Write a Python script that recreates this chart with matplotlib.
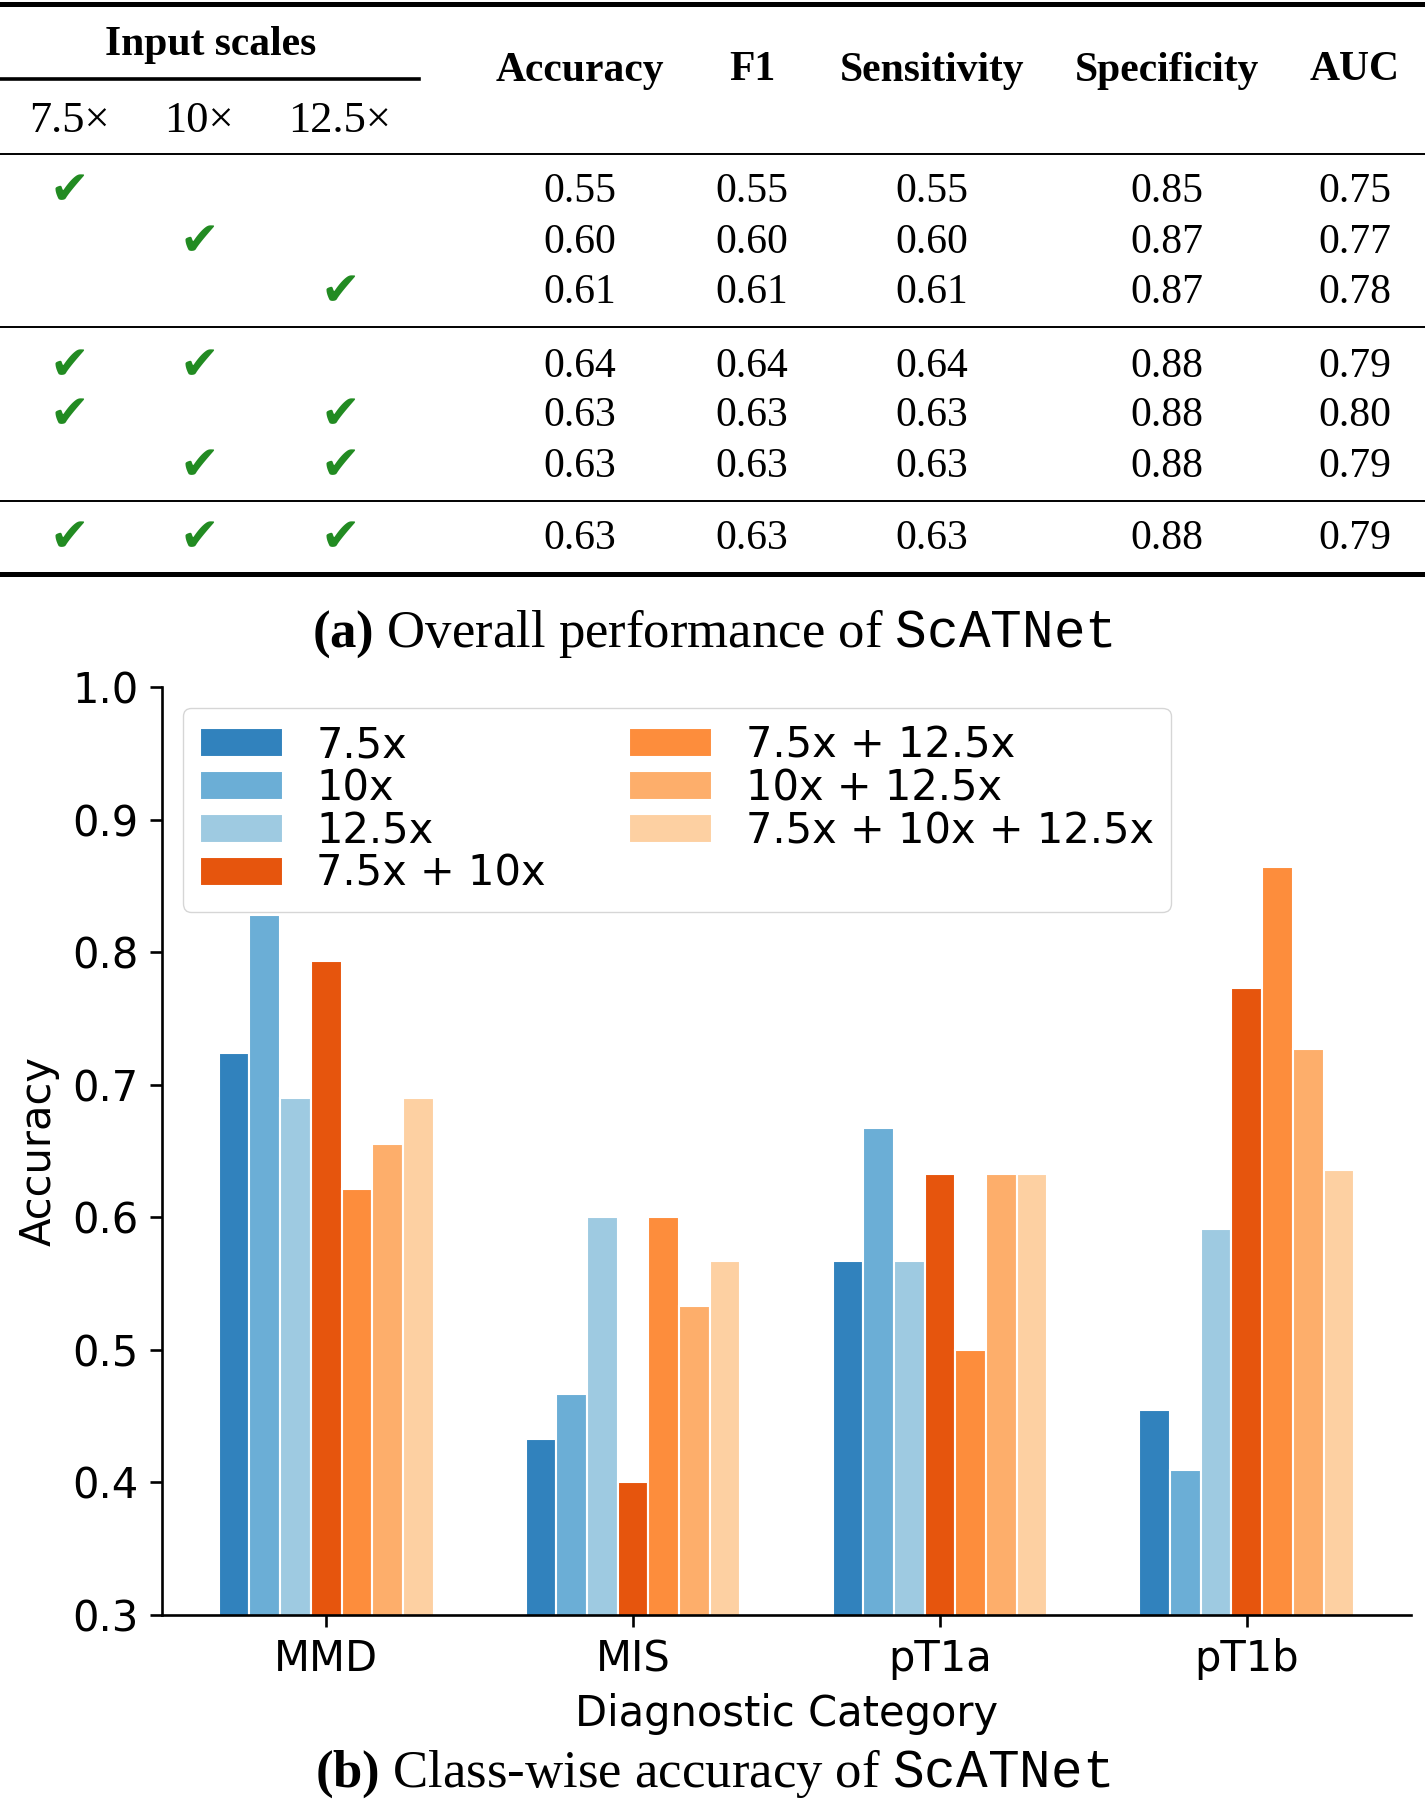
import numpy as np
import matplotlib
matplotlib.use("Agg")
import matplotlib.pyplot as plt
from matplotlib.lines import Line2D

# ---- table (a) data ----
scale_names = ["7.5\u00d7", "10\u00d7", "12.5\u00d7"]
metric_names = ["Accuracy", "F1", "Sensitivity", "Specificity", "AUC"]
scale_used = [
    [1, 0, 0],
    [0, 1, 0],
    [0, 0, 1],
    [1, 1, 0],
    [1, 0, 1],
    [0, 1, 1],
    [1, 1, 1],
]
accuracy = [0.55, 0.60, 0.61, 0.64, 0.63, 0.63, 0.63]
f1 = [0.55, 0.60, 0.61, 0.64, 0.63, 0.63, 0.63]
sensitivity = [0.55, 0.60, 0.61, 0.64, 0.63, 0.63, 0.63]
specificity = [0.85, 0.87, 0.87, 0.88, 0.88, 0.88, 0.88]
auc = [0.75, 0.77, 0.78, 0.79, 0.80, 0.79, 0.79]

# ---- bar chart (b) data ----
categories = ["MMD", "MIS", "pT1a", "pT1b"]
series_labels = ["7.5x", "10x", "12.5x", "7.5x + 10x",
                 "7.5x + 12.5x", "10x + 12.5x", "7.5x + 10x + 12.5x"]
acc_75 = [0.724, 0.433, 0.567, 0.455]
acc_10 = [0.828, 0.467, 0.667, 0.409]
acc_125 = [0.690, 0.600, 0.567, 0.591]
acc_75_10 = [0.793, 0.400, 0.633, 0.773]
acc_75_125 = [0.621, 0.600, 0.500, 0.864]
acc_10_125 = [0.655, 0.533, 0.633, 0.727]
acc_all = [0.690, 0.567, 0.633, 0.636]
series_values = [acc_75, acc_10, acc_125, acc_75_10, acc_75_125, acc_10_125, acc_all]

plt.rcParams['mathtext.fontset'] = 'custom'
plt.rcParams['mathtext.rm'] = 'Liberation Serif'
plt.rcParams['mathtext.bf'] = 'Liberation Serif:bold'
plt.rcParams['mathtext.tt'] = 'Liberation Mono'

W, H = 1425, 1800
fig = plt.figure(figsize=(W / 100, H / 100), dpi=100)


def fx(x):
    return x / W


def fy(y):
    return 1 - y / H


def hrule(y, x0, x1, lw):
    fig.add_artist(Line2D([fx(x0), fx(x1)], [fy(y), fy(y)], color='black',
                          lw=lw, transform=fig.transFigure))


serif = 'Liberation Serif'
check_green = '#228B22'
dy = 3.5  # text sits a bit lower than the bbox centre

# rules of the table
hrule(4, 0, W, 3.6)
hrule(79, 0, 419, 2.6)
hrule(154, 0, W, 1.4)
hrule(327, 0, W, 1.4)
hrule(501, 0, W, 1.4)
hrule(574, 0, W, 3.6)

# header
fig.text(fx(211), fy(42 + dy), "Input scales", family=serif, weight='bold',
         fontsize=30, ha='center', va='center')
scale_x = [69, 199, 340]
metric_x = [580, 752, 932, 1167, 1355]
for x, name in zip(scale_x, scale_names):
    fig.text(fx(x), fy(117 + dy), name, family=serif, fontsize=32,
             ha='center', va='center')
for x, name in zip(metric_x, metric_names):
    fig.text(fx(x), fy(67 + dy), name, family=serif, weight='bold', fontsize=30,
             ha='center', va='center')

# body
row_y = [188, 239, 289, 363, 412, 463, 535]
metric_cols = [accuracy, f1, sensitivity, specificity, auc]
for i, y in enumerate(row_y):
    for j, x in enumerate(scale_x):
        if scale_used[i][j]:
            fig.text(fx(x), fy(y + 4), "\u2714", family='DejaVu Sans', fontsize=34,
                     color=check_green, ha='center', va='center')
    for x, col in zip(metric_x, metric_cols):
        fig.text(fx(x), fy(y + dy), f"{col[i]:.2f}", family=serif, fontsize=30,
                 ha='center', va='center')

fig.text(0.5, fy(634), r"$\mathbf{(a)}$ Overall performance of $\mathtt{ScATNet}$",
         family=serif, fontsize=38, ha='center', va='center')

# ---- bar chart ----
ax = fig.add_axes([fx(162), fy(1615), fx(1411 - 162), (1615 - 687) / H])
cmap = plt.get_cmap('tab20c')
colors = [cmap(0), cmap(1), cmap(2), cmap(4), cmap(5), cmap(6), cmap(7)]
x = np.arange(len(categories))
bw = 0.1
n = len(series_values)
for k, (vals, lab, c) in enumerate(zip(series_values, series_labels, colors)):
    ax.bar(x + (k - (n - 1) / 2) * bw, vals, bw, label=lab, color=c,
           edgecolor='white', linewidth=1.5)

ax.set_ylim(0.3, 1.0)
ax.set_xticks(x)
ax.set_xticklabels(categories)
ax.set_yticks([0.3, 0.4, 0.5, 0.6, 0.7, 0.8, 0.9, 1.0])
ax.tick_params(labelsize=30, length=8.4, width=1.9, pad=8.4)
ax.set_xlabel("Diagnostic Category", fontsize=30, labelpad=9)
ax.set_ylabel("Accuracy", fontsize=30, labelpad=9)
for s in ['top', 'right']:
    ax.spines[s].set_visible(False)
for s in ['left', 'bottom']:
    ax.spines[s].set_linewidth(1.9)

ax.legend(loc='upper left', ncol=2, fontsize=30, labelspacing=0.02)

fig.text(0.5, fy(1774), r"$\mathbf{(b)}$ Class-wise accuracy of $\mathtt{ScATNet}$",
         family=serif, fontsize=38, ha='center', va='center')

fig.savefig("out.png", dpi=100)
